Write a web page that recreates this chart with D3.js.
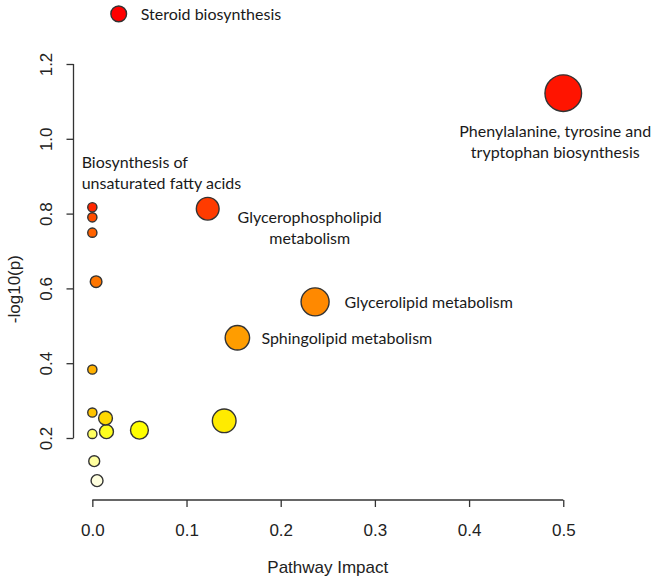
<!DOCTYPE html>
<html>
<head>
<meta charset="utf-8">
<script src="https://cdn.jsdelivr.net/npm/d3@7"></script>
<style>
  html, body { margin: 0; padding: 0; background: #fff; }
  svg { display: block; }
</style>
</head>
<body>
<svg id="chart" width="666" height="579"></svg>
<script>
// ---- data ----
const pathwayNames = [
  "Steroid biosynthesis",
  "Phenylalanine, tyrosine and tryptophan biosynthesis",
  "Glycerophospholipid metabolism",
  "Biosynthesis of unsaturated fatty acids",
  "Pathway 5",
  "Pathway 6",
  "Pathway 7",
  "Glycerolipid metabolism",
  "Sphingolipid metabolism",
  "Pathway 10",
  "Pathway 11",
  "Pathway 12",
  "Pathway 13",
  "Pathway 14",
  "Pathway 15",
  "Pathway 16",
  "Pathway 17",
  "Pathway 18"
];
const pathwayImpact = [0.028, 0.500, 0.1225, 0.000, 0.000, 0.000, 0.004, 0.2365, 0.154,
                       0.000, 0.000, 0.014, 0.140, 0.050, 0.015, 0.000, 0.002, 0.005];
const negLog10P = [1.334, 1.122, 0.813, 0.817, 0.790, 0.749, 0.618, 0.564, 0.468,
                   0.383, 0.268, 0.253, 0.246, 0.221, 0.217, 0.211, 0.138, 0.086];
const xTicks = [0.0, 0.1, 0.2, 0.3, 0.4, 0.5];
const yTicks = [0.2, 0.4, 0.6, 0.8, 1.0, 1.2];
const xTitle = "Pathway Impact";
const yTitle = "-log10(p)";

// annotations: label lines for selected pathways
const annotatedPathways = [
  "Steroid biosynthesis",
  "Phenylalanine, tyrosine and tryptophan biosynthesis",
  "Biosynthesis of unsaturated fatty acids",
  "Glycerophospholipid metabolism",
  "Glycerolipid metabolism",
  "Sphingolipid metabolism"
];
const annotationLines = [
  ["Steroid biosynthesis"],
  ["Phenylalanine, tyrosine and", "tryptophan biosynthesis"],
  ["Biosynthesis of", "unsaturated fatty acids"],
  ["Glycerophospholipid", "metabolism"],
  ["Glycerolipid metabolism"],
  ["Sphingolipid metabolism"]
];

// ---- build table ----
const points = pathwayNames.map((name, i) => ({
  name, impact: pathwayImpact[i], p: negLog10P[i]
}));

// R's heat.colors(n)
function heatColors(n) {
  const j = Math.floor(n / 4), i = n - j;
  const out = [];
  for (let k = 0; k < i; k++) {
    const h = i > 1 ? (k / (i - 1)) * 60 : 0;
    out.push(d3.hsl(h, 1, 0.5).formatHex());
  }
  for (let k = 0; k < j; k++) {
    const s = j > 1 ? (1 - 1 / (2 * j)) - k * ((1 - 1 / j) / (j - 1)) : 0.5;
    out.push(d3.rgb(255, 255, Math.round(255 * (1 - s))).formatHex());
  }
  return out;
}

// ---- layout ----
const svg = d3.select("#chart");
svg.append("rect").attr("width", 666).attr("height", 579).attr("fill", "#fff");

const x = d3.scaleLinear().domain([-0.02, 0.52]).range([73.5, 582.1]);
const y = d3.scaleLinear().domain([0.2, 1.2]).range([438, 64]);
const r = d3.scaleSqrt().domain([0, 0.5]).range([4.6, 18.3]);

const ranked = points.slice().sort((a, b) => b.p - a.p).map(d => d.name);
const color = d3.scaleOrdinal().domain(ranked).range(heatColors(points.length));

const axisColor = "#333";
const axisFont = "'Liberation Sans', Arial, sans-serif";
const labelFont = "Lato, 'Open Sans', sans-serif";

// x axis
const xAxisY = 500;
const gx = svg.append("g").attr("transform", `translate(0,${xAxisY})`)
  .call(d3.axisBottom(x).tickValues(xTicks).tickSize(7).tickPadding(17)
    .tickFormat(d3.format(".1f")));
gx.select(".domain").remove();
gx.append("line").attr("x1", x(xTicks[0])).attr("x2", x(xTicks[xTicks.length - 1]))
  .attr("y1", 0).attr("y2", 0);
gx.selectAll("line").attr("stroke", axisColor).attr("stroke-width", 1.3);
gx.selectAll("text").attr("font-family", axisFont).attr("font-size", 17)
  .attr("fill", "#222");

// y axis
const yAxisX = 73.5;
const gy = svg.append("g").attr("transform", `translate(${yAxisX},0)`)
  .call(d3.axisLeft(y).tickValues(yTicks).tickSize(7).tickFormat(d3.format(".1f")));
gy.select(".domain").remove();
gy.append("line").attr("x1", 0).attr("x2", 0)
  .attr("y1", y(yTicks[0])).attr("y2", y(yTicks[yTicks.length - 1]));
gy.selectAll("line").attr("stroke", axisColor).attr("stroke-width", 1.3);
gy.selectAll(".tick text")
  .attr("font-family", axisFont).attr("font-size", 17).attr("fill", "#222")
  .attr("text-anchor", "middle").attr("dy", null).attr("x", null)
  .attr("transform", "translate(-22,0) rotate(-90)");

// axis titles
svg.append("text").text(xTitle)
  .attr("x", x(0.25)).attr("y", 573)
  .attr("text-anchor", "middle").attr("font-family", axisFont)
  .attr("font-size", 17).attr("fill", "#222");
svg.append("text").text(yTitle)
  .attr("transform", `translate(20,${y(0.598)}) rotate(-90)`)
  .attr("text-anchor", "middle").attr("font-family", axisFont)
  .attr("font-size", 17).attr("fill", "#222");

// points
const drawOrder = points.slice().sort((a, b) => a.p - b.p);
svg.append("g").selectAll("circle").data(drawOrder).join("circle")
  .attr("cx", d => x(d.impact))
  .attr("cy", d => y(d.p))
  .attr("r", d => r(d.impact))
  .attr("fill", d => color(d.name))
  .attr("stroke", "#333")
  .attr("stroke-width", 1.4);

// annotation placement relative to each point (layout only)
const annotLayout = {
  "Steroid biosynthesis": { dx: 22, dy: 0, anchor: "start" },
  "Phenylalanine, tyrosine and tryptophan biosynthesis": { dx: -8, dy: 37, anchor: "middle" },
  "Biosynthesis of unsaturated fatty acids": { dx: -10.7, dy: -46, anchor: "start" },
  "Glycerophospholipid metabolism": { dx: 102, dy: 8, anchor: "middle" },
  "Glycerolipid metabolism": { dx: 29.5, dy: 0, anchor: "start" },
  "Sphingolipid metabolism": { dx: 24, dy: 0, anchor: "start" }
};
const lineHeight = 21;
annotatedPathways.forEach((name, i) => {
  const d = points.find(p => p.name === name);
  const L = annotLayout[name];
  const t = svg.append("text")
    .attr("font-family", labelFont).attr("font-size", 16).attr("fill", "#1a1a1a")
    .attr("text-anchor", L.anchor);
  annotationLines[i].forEach((line, k) => {
    t.append("tspan")
      .attr("x", x(d.impact) + L.dx)
      .attr("y", y(d.p) + L.dy + k * lineHeight)
      .attr("dominant-baseline", "central")
      .text(line);
  });
});
</script>
</body>
</html>
